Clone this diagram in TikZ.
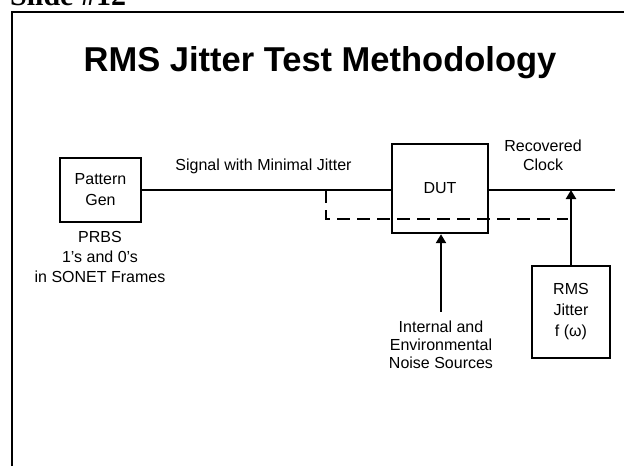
\documentclass[tikz,border=0pt]{standalone}
\usepackage{fontspec}
\setmainfont{Liberation Sans}
\newfontfamily\slidefont{Liberation Serif}
\usetikzlibrary{arrows.meta}

\begin{document}
\begin{tikzpicture}[x=1pt,y=-1pt,
  frame/.style={line width=1.4pt},
  box/.style={draw,line width=2.4pt,inner sep=0pt,align=center,
    font=\fontsize{16}{21}\selectfont},
  lbl/.style={align=center,inner sep=0pt},
  wire/.style={line width=2.2pt},
  dashwire/.style={line width=2.4pt,dash pattern=on 13pt off 7pt},
  arr/.style={line width=2.2pt,-{Triangle[length=9pt,width=10pt]}}]

  % page area
  \useasboundingbox (0,0) rectangle (624,466);
  \fill[white] (0,0) rectangle (624,466);
  \clip (0,0) rectangle (624,466);

  % slide header and frame
  \node[anchor=base west,inner sep=0pt,
    font=\slidefont\bfseries\fontsize{30}{34}\selectfont] (slide) at (10,5) {Slide \#12};
  \draw[frame] (12,466) -- (12,12) -- (624,12);

  % title
  \node[anchor=base,inner sep=0pt,font=\bfseries\fontsize{34.5}{40}\selectfont]
    (title) at (320,71) {RMS Jitter Test Methodology};

  % blocks
  \node[box,minimum width=81pt,minimum height=64pt] (pg) at (100.5,190) {Pattern\\Gen};
  \node[box,minimum width=96pt,minimum height=89pt] (dut) at (440,188.5) {DUT};
  \node[box,minimum width=78pt,minimum height=92pt] (rms) at (571,312) {RMS\\Jitter\\f (ω)};

  % labels
  \node[lbl,font=\fontsize{16}{20}\selectfont] (prbs) at (100,257) {PRBS\\1's and 0's\\in SONET Frames};
  \node[lbl,font=\fontsize{16}{18}\selectfont] (sig) at (263.5,166.5) {Signal with Minimal Jitter};
  \node[lbl,font=\fontsize{16}{19}\selectfont] (rec) at (543,155.5) {Recovered\\Clock};
  \node[lbl,font=\fontsize{16}{18}\selectfont] (noise) at (441,345) {Internal and\\Environmental\\Noise Sources};

  % signal path
  \coordinate (outR) at (615,190);
  \coordinate (split) at (326,190);
  \coordinate (dashend) at (568,219);
  \draw[wire] (pg.east) -- (pg.east -| dut.west);
  \draw[wire] (dut.east |- pg.east) -- (outR);
  \draw[dashwire] (split) -- (split |- dashend) -- (dashend);

  % measurement and noise inputs
  \draw[arr] (rms.north) -- (rms.north |- pg.east);
  \draw[arr] ([yshift=9pt]noise.north) -- (noise.north |- dut.south);
\end{tikzpicture}
\end{document}
